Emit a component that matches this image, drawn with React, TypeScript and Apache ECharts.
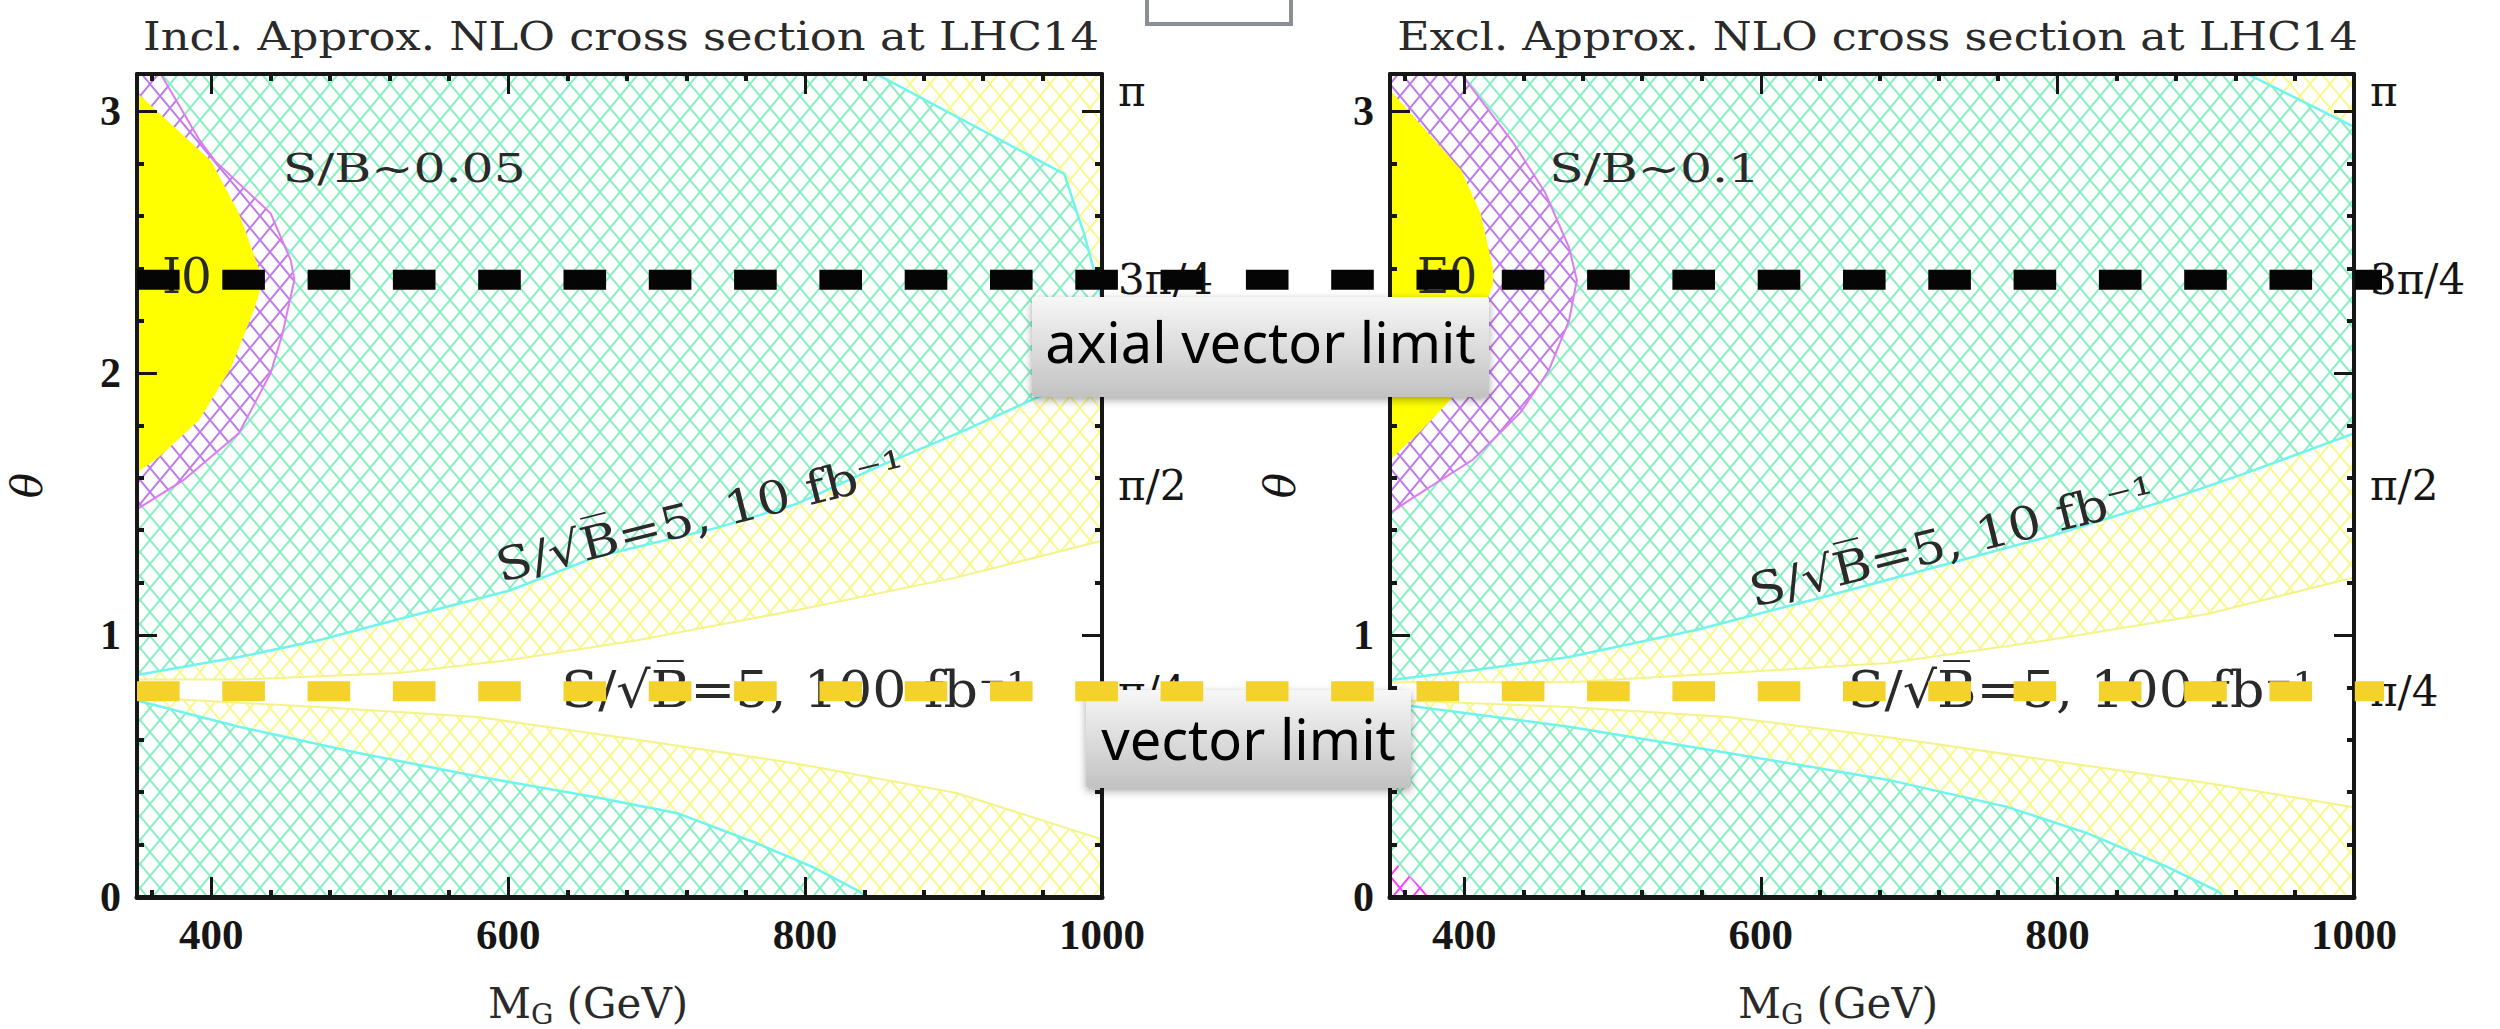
import React, { useEffect, useRef } from 'react';
import * as echarts from 'echarts';

const PI = Math.PI;

// ---------- axis values ----------
const xMajorTicks = [400, 600, 800, 1000];
const xMinorTicks = [360, 440, 480, 520, 560, 640, 680, 720, 760, 840, 880, 920, 960];
const yMajorTicks = [0, 1, 2, 3];
const yMinorTicks = [0.2, 0.4, 0.6, 0.8, 1.2, 1.4, 1.6, 1.8, 2.2, 2.4, 2.6, 2.8];
// the "2" of the right panel is hidden under the "axial vector limit" box in the reference
const yLabelsByPanel = [[0, 1, 2, 3], [0, 1, 3]];
const piTickValues = [PI / 4, PI / 2, (3 * PI) / 4, PI];
const piTickLabels = ['π/4', 'π/2', '3π/4', 'π'];
const xRange = [350, 1000];
const yRange = [0, PI];

const panelTitles = ['Incl. Approx. NLO cross section at LHC14', 'Excl. Approx. NLO cross section at LHC14'];

// ---------- limits (theta) ----------
const axialVectorLimit = (3 * PI) / 4;
const vectorLimit = PI / 4;

// ---------- Inclusive panel boundaries [M_G, theta] ----------
const inclYellowCore = [[350, 3.07], [399.8, 2.81], [418.6, 2.61], [432, 2.4], [434.8, 2.355], [429.4, 2.25], [413.3, 2.02], [391.7, 1.82], [364.8, 1.68], [350, 1.62]];
const inclPurpleBand = [[350, PI], [366, PI], [392, 2.89], [402.5, 2.81], [440, 2.61], [453.6, 2.43], [456, 2.355], [448, 2.15], [440, 2.0], [418.6, 1.77], [381, 1.59], [350, 1.48]];
const inclCornerBand = [[848, PI], [974.5, 2.76], [988, 2.53], [1000, 2.28], [1000, PI]];
const inclUpperSignal = [[350, 0.847], [418.6, 0.916], [472.5, 0.98], [526, 1.06], [601, 1.17], [660, 1.3], [741, 1.41], [794, 1.5], [848, 1.64], [907, 1.78], [955.7, 1.905], [1000, 2.0]];
const inclUpperBandEdge = [[350, 0.83], [418.6, 0.83], [526, 0.855], [601, 0.905], [687, 0.98], [794, 1.095], [902, 1.22], [1000, 1.36]];
const inclLowerBandEdge = [[350, 0.763], [472.5, 0.725], [579.6, 0.687], [687, 0.6], [794, 0.51], [902, 0.397], [1000, 0.22]];
const inclLowerSignal = [[350, 0.75], [418.6, 0.65], [499, 0.55], [579.6, 0.46], [660, 0.38], [714, 0.32], [767, 0.206], [805, 0.115], [837, 0.02], [840, 0]];

// ---------- Exclusive panel boundaries ----------
const exclYellowCore = [[350, 3.08], [398, 2.775], [411, 2.61], [419.5, 2.4], [419.5, 2.34], [411, 2.21], [392.5, 1.91], [371, 1.78], [352, 1.68], [350, 1.66]];
const exclPurpleBand = [[350, PI], [398, PI], [433, 2.88], [454.5, 2.69], [470.7, 2.48], [476, 2.355], [470.7, 2.2], [457, 2.01], [438, 1.85], [406, 1.67], [363, 1.515], [350, 1.465]];
const exclCornerBand = [[928, PI], [1000, 2.94], [1000, PI]];
const exclUpperSignal = [[350, 0.828], [406, 0.866], [470.7, 0.916], [557, 1.02], [632, 1.13], [718, 1.26], [793, 1.374], [874, 1.515], [928, 1.62], [1000, 1.77]];
const exclUpperBandEdge = [[350, 0.82], [470.7, 0.82], [578, 0.855], [686, 0.893], [793, 0.98], [901, 1.08], [1000, 1.22]];
const exclLowerBandEdge = [[350, 0.752], [470.7, 0.725], [578, 0.687], [686, 0.61], [793, 0.523], [901, 0.435], [1000, 0.343]];
const exclLowerSignal = [[350, 0.74], [470.7, 0.65], [578, 0.55], [686, 0.447], [766, 0.344], [820, 0.244], [874, 0.115], [909, 0.02], [912, 0]];
const exclMagentaCorner = [[350, 0.15], [378, 0], [350, 0]];

// ---------- in-plot labels ----------
const inclLabels = [
  { text: 'S/B~0.05', x: 530, y: 2.78 },
  { text: 'I0', x: 383.6, y: 2.37 },
  { text: 'S/√B̅=5, 10 fb⁻¹', x: 729.5, y: 1.454 },
  { text: 'S/√B̅=5, 100 fb⁻¹', x: 793, y: 0.79 },
];
const exclLabels = [
  { text: 'S/B~0.1', x: 528.4, y: 2.78 },
  { text: 'E0', x: 388.4, y: 2.37 },
  { text: 'S/√B̅=5, 10 fb⁻¹', x: 729, y: 1.355 },
  { text: 'S/√B̅=5, 100 fb⁻¹', x: 816, y: 0.79 },
];

// ---------- styling / layout ----------
const GRID_BOXES = [
  { left: 137, top: 74, width: 965, height: 823 },
  { left: 1390, top: 74, width: 964, height: 823 },
];
const INK = '#161616';
const SERIF = '"DejaVu Serif", serif';
const TICK_FONT = '"Liberation Serif", serif';
const LABEL_STYLE = [
  { size: 40, width: 243, rot: 0 },
  { size: 48, width: 50, rot: 0 },
  { size: 46, width: 420, rot: 14 },
  { size: 50, width: 467, rot: 0 },
];
const LABEL_STYLE_EXCL = [
  { size: 40, width: 211, rot: 0 },
  { size: 48, width: 60, rot: 0 },
  { size: 46, width: 416, rot: 14 },
  { size: 50, width: 467, rot: 0 },
];

let measureCtx: any = null;
function textWidth(text: string, font: string) {
  if (!measureCtx) measureCtx = document.createElement('canvas').getContext('2d');
  measureCtx.font = font;
  return measureCtx.measureText(text).width;
}

function hatch(color: string, w = 20, h = 24, lw = 2) {
  const c = document.createElement('canvas');
  c.width = w;
  c.height = h;
  const g = c.getContext('2d')!;
  g.strokeStyle = color;
  g.lineWidth = lw;
  g.beginPath();
  for (const dx of [-w, 0, w]) {
    g.moveTo(dx, 0);
    g.lineTo(dx + w, h);
    g.moveTo(dx + w, 0);
    g.lineTo(dx, h);
  }
  g.stroke();
  return { image: c.toDataURL(), repeat: 'repeat', imageWidth: w, imageHeight: h } as any;
}

function regionSeries(gi: number, pts: number[][], fill: any, whiteUnder = true) {
  return {
    type: 'custom',
    xAxisIndex: gi * 4,
    yAxisIndex: gi * 4,
    silent: true,
    clip: true,
    data: [[pts[0][0], pts[0][1]]],
    renderItem: (_p: any, api: any) => {
      const points = pts.map((p) => api.coord(p));
      const children: any[] = [];
      if (whiteUnder) children.push({ type: 'polygon', shape: { points }, style: { fill: '#ffffff' } });
      if (fill) children.push({ type: 'polygon', shape: { points }, style: { fill } });
      return { type: 'group', children };
    },
  };
}

function lineSeries(gi: number, pts: number[][], color: string, width: number) {
  return {
    type: 'custom',
    xAxisIndex: gi * 4,
    yAxisIndex: gi * 4,
    silent: true,
    clip: true,
    data: [[pts[0][0], pts[0][1]]],
    renderItem: (_p: any, api: any) => ({
      type: 'polyline',
      shape: { points: pts.map((p) => api.coord(p)) },
      style: { stroke: color, lineWidth: width, fill: null },
    }),
  };
}

function labelSeries(gi: number, items: any[], styles: any[]) {
  return {
    type: 'custom',
    xAxisIndex: gi * 4,
    yAxisIndex: gi * 4,
    silent: true,
    clip: false,
    z: 6,
    data: items.map((it) => [it.x, it.y]),
    renderItem: (params: any, api: any) => {
      const it = items[params.dataIndex];
      const st = styles[params.dataIndex];
      const p = api.coord([it.x, it.y]);
      const font = `${st.size}px ${SERIF}`;
      const sx = st.width / textWidth(it.text, font);
      return {
        type: 'text',
        x: p[0],
        y: p[1],
        rotation: (st.rot * PI) / 180,
        scaleX: sx,
        style: { text: it.text, font, fill: '#2a2a2a', align: 'center', verticalAlign: 'middle' },
      };
    },
  };
}

function axesFor(gi: number) {
  const common: any = { gridIndex: gi, type: 'value', z: 10, silent: true, splitLine: { show: false }, axisPointer: { show: false } };
  const xc = { ...common, min: xRange[0], max: xRange[1] };
  const yc = { ...common, min: yRange[0], max: yRange[1] };
  const major = (vals: number[], w = 3) => ({ show: true, inside: true, length: 20, customValues: vals, lineStyle: { color: INK, width: w } });
  const minor = (vals: number[]) => ({ show: true, inside: true, length: 7, customValues: vals, lineStyle: { color: INK, width: 4 } });
  const line = (w: number) => ({ show: true, onZero: false, lineStyle: { color: INK, width: w } });
  const noLine = { show: false, onZero: false };
  const xs = [
    {
      ...xc, position: 'bottom', axisLine: line(5), axisTick: major(xMajorTicks),
      axisLabel: { show: true, customValues: xMajorTicks, formatter: (v: number) => String(v), margin: 16, color: INK, fontFamily: TICK_FONT, fontWeight: 'bold', fontSize: 43 },
    },
    { ...xc, position: 'bottom', axisLine: noLine, axisTick: minor(xMinorTicks), axisLabel: { show: false } },
    { ...xc, position: 'top', axisLine: line(4), axisTick: major(xMajorTicks), axisLabel: { show: false } },
    { ...xc, position: 'top', axisLine: noLine, axisTick: minor(xMinorTicks), axisLabel: { show: false } },
  ];
  const ys = [
    {
      ...yc, position: 'left', axisLine: line(4), axisTick: major(yMajorTicks),
      axisLabel: { show: true, customValues: yLabelsByPanel[gi], formatter: (v: number) => String(v), margin: 16, color: INK, fontFamily: TICK_FONT, fontWeight: 'bold', fontSize: 42 },
      name: 'θ', nameLocation: 'middle', nameGap: 89, nameRotate: 90,
      nameTextStyle: { fontFamily: SERIF, fontStyle: 'italic', fontSize: 42, color: INK },
    },
    { ...yc, position: 'left', axisLine: noLine, axisTick: minor(yMinorTicks), axisLabel: { show: false } },
    {
      ...yc, position: 'right', axisLine: line(4), axisTick: major(yMajorTicks),
      axisLabel: {
        show: true, customValues: piTickValues, margin: 16, color: INK, fontFamily: SERIF, fontSize: 42,
        formatter: (v: number) => {
          const i = piTickValues.findIndex((t) => Math.abs(t - v) < 1e-6);
          const s = i >= 0 ? piTickLabels[i] : '';
          return i === 3 ? `{top|${s}}` : s;
        },
        rich: { top: { fontFamily: SERIF, fontSize: 42, color: INK, padding: [34, 0, 0, 0] } },
      },
    },
    { ...yc, position: 'right', axisLine: noLine, axisTick: minor(yMinorTicks), axisLabel: { show: false } },
  ];
  return { xs, ys };
}

function panelSeries(gi: number, d: any, pat: any) {
  const base = [[1000, 0], [350, 0]];
  const s: any[] = [
    regionSeries(gi, [[350, 0], [1000, 0], [1000, PI], [350, PI]], pat.green),
    regionSeries(gi, [...d.upperSignal, ...base], pat.yellow),
    regionSeries(gi, [...d.upperBandEdge, ...base], null),
    regionSeries(gi, [...d.lowerBandEdge, ...base], pat.yellow),
    regionSeries(gi, [...d.lowerSignal, [350, 0]], pat.green),
    regionSeries(gi, d.corner, pat.yellow),
  ];
  if (d.magenta) s.push(regionSeries(gi, d.magenta, pat.magenta));
  s.push(regionSeries(gi, d.purple, pat.purple));
  s.push(regionSeries(gi, d.core, '#ffff00', false));
  s.push(lineSeries(gi, d.upperBandEdge, '#f3f38a', 2));
  s.push(lineSeries(gi, d.lowerBandEdge, '#f3f38a', 2));
  s.push(lineSeries(gi, d.upperSignal, '#6ff4ee', 2.5));
  s.push(lineSeries(gi, d.lowerSignal, '#6ff4ee', 2.5));
  s.push(lineSeries(gi, d.corner.slice(0, d.corner.length - 1), '#6ff4ee', 2.5));
  s.push(lineSeries(gi, d.purple.slice(1), '#dd7cf2', 2));
  s.push(labelSeries(gi, d.labels, d.labelStyles));
  return s;
}

function buildOption() {
  const pat = {
    green: hatch('#86efc2'),
    yellow: hatch('#f8f88c'),
    purple: hatch('#bd7ae8'),
    magenta: hatch('#ff3cff'),
  };
  const panels = [
    { upperSignal: inclUpperSignal, upperBandEdge: inclUpperBandEdge, lowerBandEdge: inclLowerBandEdge, lowerSignal: inclLowerSignal, corner: inclCornerBand, purple: inclPurpleBand, core: inclYellowCore, magenta: null, labels: inclLabels, labelStyles: LABEL_STYLE },
    { upperSignal: exclUpperSignal, upperBandEdge: exclUpperBandEdge, lowerBandEdge: exclLowerBandEdge, lowerSignal: exclLowerSignal, corner: exclCornerBand, purple: exclPurpleBand, core: exclYellowCore, magenta: exclMagentaCorner, labels: exclLabels, labelStyles: LABEL_STYLE_EXCL },
  ];
  const a0 = axesFor(0);
  const a1 = axesFor(1);
  return {
    animation: false,
    backgroundColor: '#ffffff',
    grid: GRID_BOXES.map((g) => ({ ...g, containLabel: false })),
    xAxis: [...a0.xs, ...a1.xs],
    yAxis: [...a0.ys, ...a1.ys],
    series: [...panelSeries(0, panels[0], pat), ...panelSeries(1, panels[1], pat)],
  };
}

function fitText(text: string, x: number, y: number, size: number, width: number) {
  const font = `${size}px ${SERIF}`;
  return {
    type: 'text', x, y, z: 50, silent: true,
    scaleX: width / textWidth(text, font),
    style: { text, font, fill: '#2a2a2a', align: 'center', verticalAlign: 'middle' },
  };
}

function buildGraphics(chart: any) {
  const pL = chart.convertToPixel({ xAxisIndex: 0, yAxisIndex: 0 }, [xRange[0], axialVectorLimit]);
  const pR = chart.convertToPixel({ xAxisIndex: 4, yAxisIndex: 4 }, [xRange[1], axialVectorLimit]);
  const vL = chart.convertToPixel({ xAxisIndex: 0, yAxisIndex: 0 }, [xRange[0], vectorLimit]);
  const vR = chart.convertToPixel({ xAxisIndex: 4, yAxisIndex: 4 }, [xRange[1], vectorLimit]);
  const boxFill = { type: 'linear', x: 0, y: 0, x2: 0, y2: 1, colorStops: [{ offset: 0, color: '#f7f7f7' }, { offset: 1, color: '#c2c2c2' }] };
  const boxStyle = { fill: boxFill, shadowBlur: 8, shadowOffsetY: 3, shadowColor: 'rgba(0,0,0,0.35)' };
  const mgRich = { s: { fontFamily: SERIF, fontSize: 28, fill: '#2a2a2a', verticalAlign: 'bottom', lineHeight: 24 } };
  const boxFont = '56px "Noto Sans", sans-serif';
  return [
    fitText(panelTitles[0], 621, 36.5, 39, 956),
    fitText(panelTitles[1], 1877.5, 36.5, 39, 961),
    {
      type: 'text', x: 588, y: 1003, z: 50, silent: true,
      style: { text: 'M{s|G} (GeV)', font: `42px ${SERIF}`, fill: '#2a2a2a', align: 'center', verticalAlign: 'middle', lineHeight: 50, rich: mgRich },
    },
    {
      type: 'text', x: 1838, y: 1003, z: 50, silent: true,
      style: { text: 'M{s|G} (GeV)', font: `42px ${SERIF}`, fill: '#2a2a2a', align: 'center', verticalAlign: 'middle', lineHeight: 50, rich: mgRich },
    },
    { type: 'rect', z: 60, silent: true, shape: { x: 1147, y: -20, width: 144, height: 44 }, style: { fill: '#ffffff', stroke: '#8b8f93', lineWidth: 4 } },
    { type: 'rect', z: 80, silent: true, shape: { x: 1032, y: 297, width: 457, height: 100, r: 3 }, style: boxStyle },
    { type: 'text', z: 81, silent: true, x: 1260.5, y: 341, style: { text: 'axial vector limit', font: boxFont, fill: '#000', align: 'center', verticalAlign: 'middle' } },
    { type: 'rect', z: 80, silent: true, shape: { x: 1086, y: 690, width: 325, height: 98, r: 3 }, style: boxStyle },
    { type: 'text', z: 81, silent: true, x: 1248.5, y: 738, style: { text: 'vector limit', font: boxFont, fill: '#000', align: 'center', verticalAlign: 'middle' } },
    {
      type: 'line', z: 100, silent: true,
      shape: { x1: pL[0], y1: pL[1], x2: pR[0] + 28, y2: pR[1] },
      style: { stroke: '#050505', lineWidth: 20, lineDash: [42.6, 42.7] },
    },
    {
      type: 'line', z: 100, silent: true,
      shape: { x1: vL[0], y1: vL[1], x2: vR[0] + 30, y2: vR[1] },
      style: { stroke: '#f4d12b', lineWidth: 20, lineDash: [42.6, 42.7] },
    },
  ];
}

export default function App() {
  const ref = useRef<HTMLDivElement>(null);
  useEffect(() => {
    const chart = echarts.init(ref.current!, null, { renderer: 'svg' });
    chart.setOption(buildOption() as any);
    chart.setOption({ graphic: buildGraphics(chart) } as any);
    return () => chart.dispose();
  }, []);
  return <div ref={ref} style={{ position: 'fixed', left: 0, top: 0, width: 2500, height: 1029, background: '#fff' }} />;
}
